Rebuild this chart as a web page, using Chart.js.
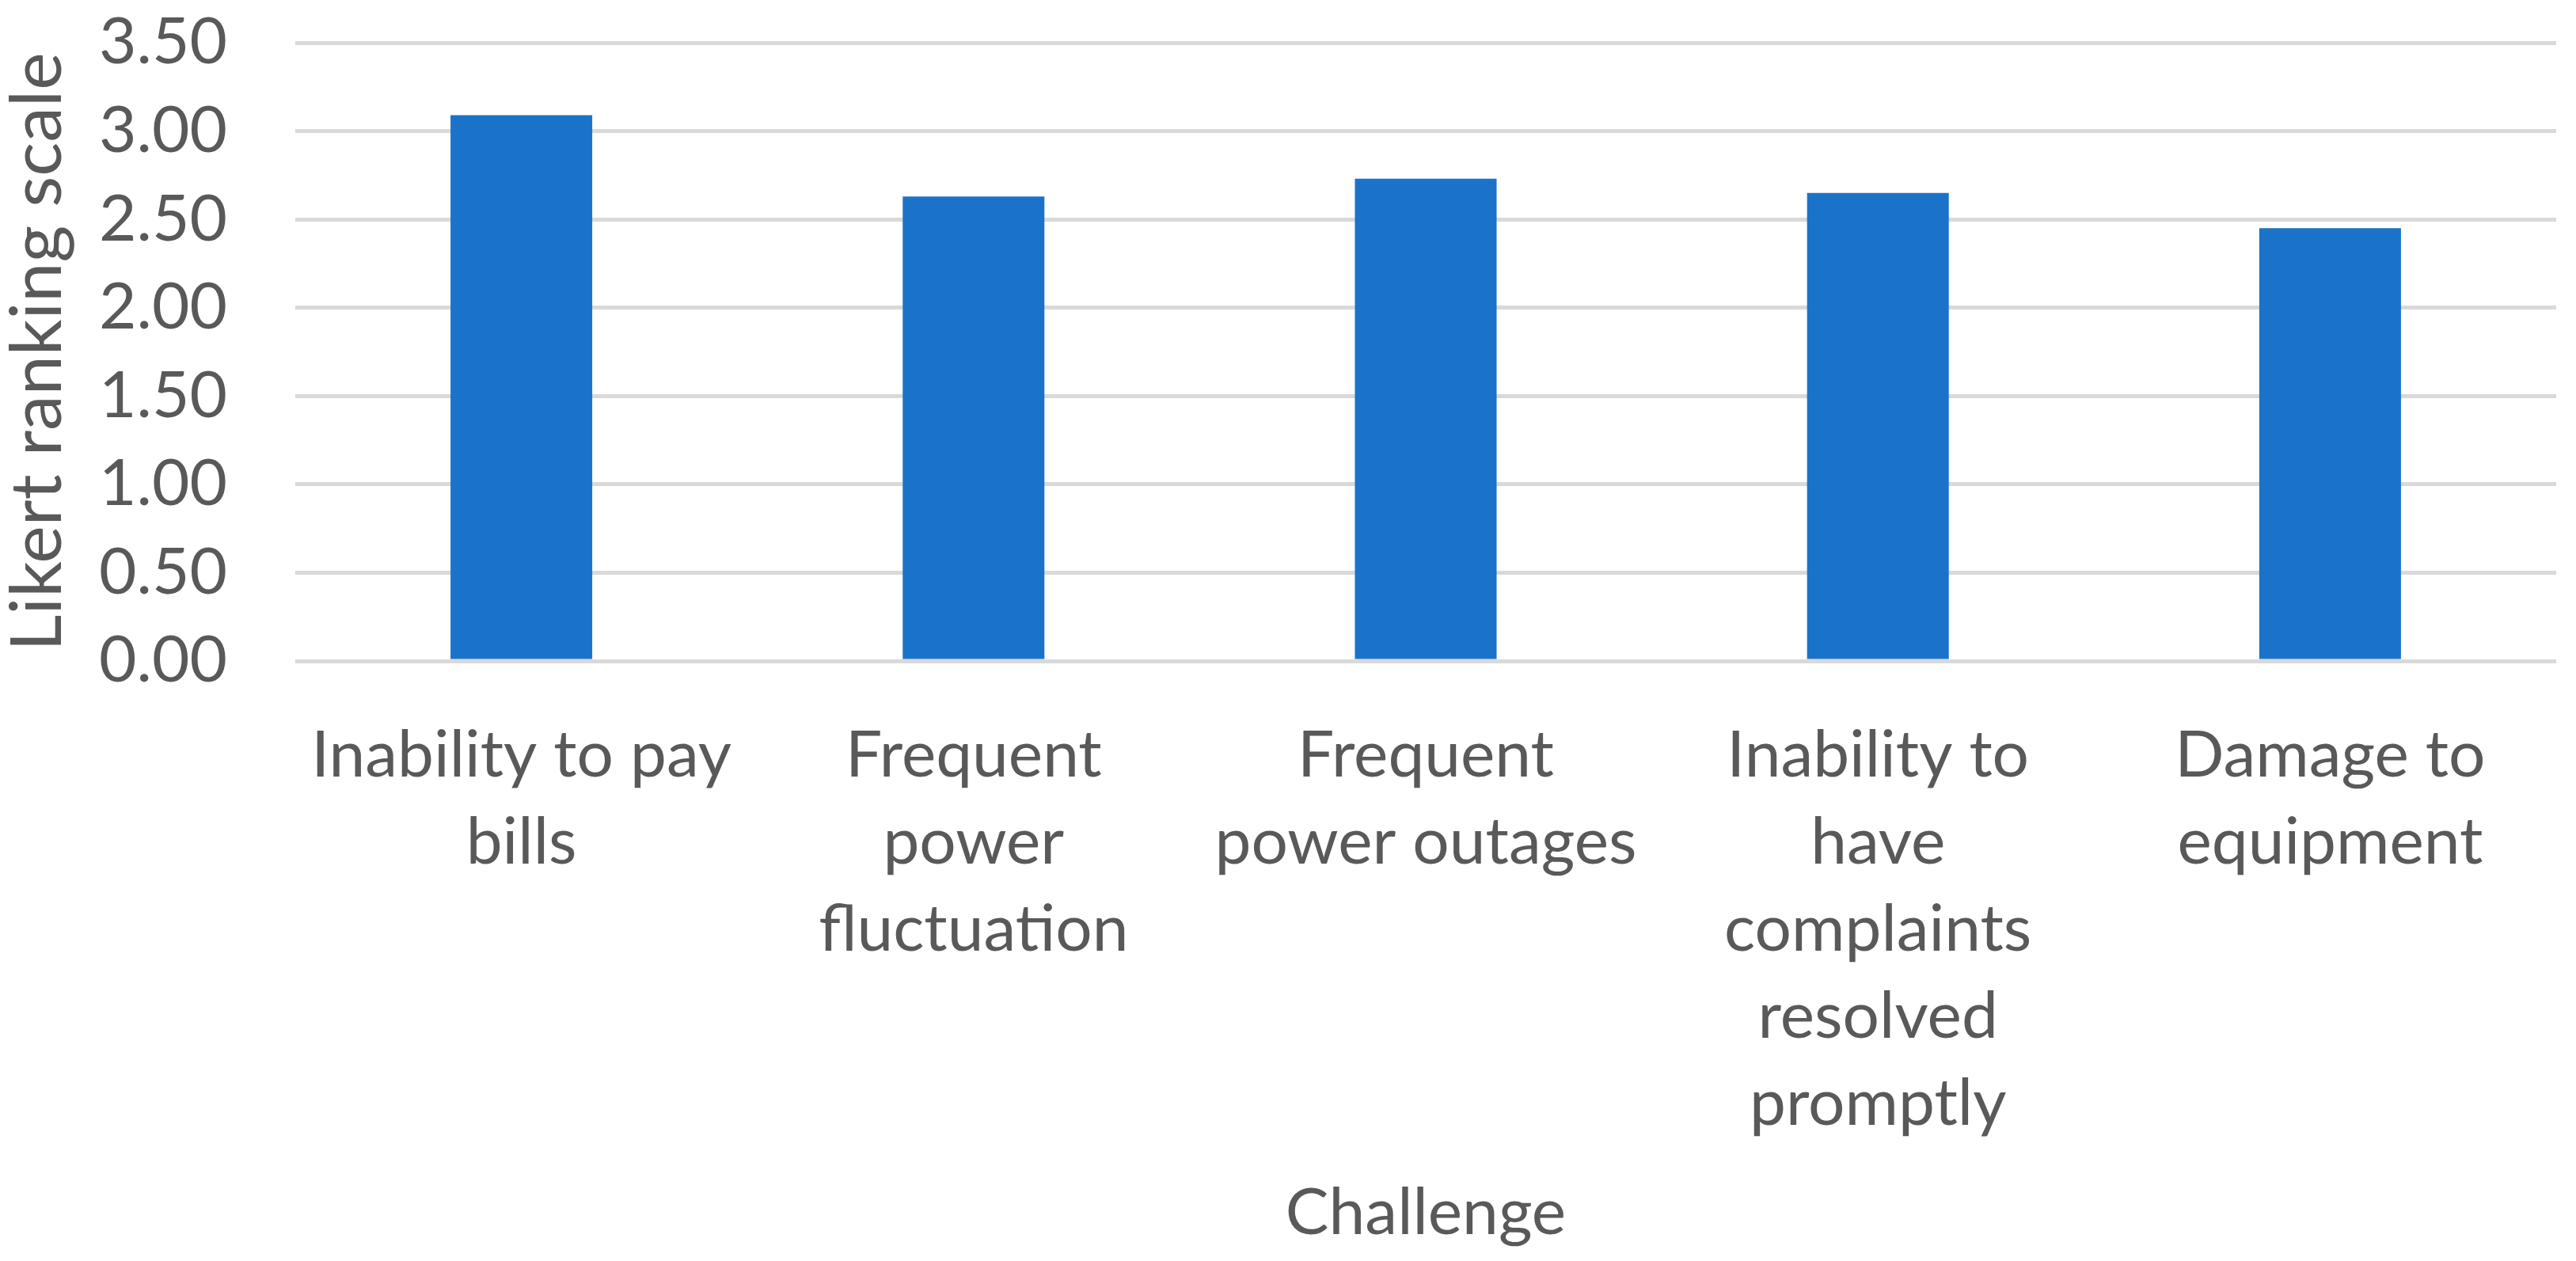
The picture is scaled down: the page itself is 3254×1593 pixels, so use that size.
<!DOCTYPE html>
<html>
<head>
<meta charset="utf-8">
<script src="https://cdn.jsdelivr.net/npm/chart.js@4.4.1/dist/chart.umd.min.js"></script>
<style>
html, body { margin: 0; padding: 0; background: #ffffff; }
#wrap { width: 3254px; height: 1593px; }
</style>
</head>
<body>
<div id="wrap"><canvas id="c" width="3254" height="1593"></canvas></div>
<script>
const categories = [
  ['Inability to pay', 'bills'],
  ['Frequent', 'power', 'fluctuation'],
  ['Frequent', 'power outages'],
  ['Inability to', 'have', 'complaints', 'resolved', 'promptly'],
  ['Damage to', 'equipment']
];
const likertValues = [3.09, 2.63, 2.73, 2.65, 2.45];
const yTickValues = [0, 0.5, 1, 1.5, 2, 2.5, 3, 3.5];
const xAxisTitle = 'Challenge';
const yAxisTitle = 'Likert ranking scale';

const FONT = 'Lato';
const TEXT = '#595959';
const GRID = '#D9D9D9';

new Chart(document.getElementById('c'), {
  type: 'bar',
  data: {
    labels: categories,
    datasets: [{
      data: likertValues,
      backgroundColor: '#1A73C9',
      borderWidth: 0,
      barPercentage: 0.3134,
      categoryPercentage: 1.0
    }]
  },
  options: {
    responsive: false,
    animation: false,
    devicePixelRatio: 1,
    layout: { padding: { top: 54, right: 25, bottom: 0, left: 0 } },
    plugins: { legend: { display: false }, tooltip: { enabled: false } },
    scales: {
      x: {
        grid: { display: false, drawTicks: false },
        border: { display: false },
        ticks: {
          color: TEXT,
          padding: 65,
          maxRotation: 0,
          autoSkip: false,
          font: { family: FONT, size: 82, lineHeight: 1.341 }
        },
        title: {
          display: true,
          text: xAxisTitle,
          color: TEXT,
          font: { family: FONT, size: 82, lineHeight: 1.0 },
          padding: { top: 0, bottom: 19 }
        },
        afterFit: (s) => { s.height = 758; s.paddingLeft = 0; s.paddingRight = 0; }
      },
      y: {
        min: 0,
        max: 3.5,
        afterBuildTicks: (s) => { s.ticks = yTickValues.map(v => ({ value: v })); },
        grid: { color: GRID, lineWidth: 5, drawTicks: false },
        border: { display: false },
        ticks: {
          color: TEXT,
          padding: 86,
          font: { family: FONT, size: 82, lineHeight: 1.2 },
          callback: (v) => Number(v).toFixed(2)
        },
        title: {
          display: true,
          text: yAxisTitle,
          color: TEXT,
          font: { family: FONT, size: 90, lineHeight: 1.0 },
          padding: { top: 3, bottom: 0 }
        },
        afterFit: (s) => { s.width = 373; s.paddingTop = 0; s.paddingBottom = 0; }
      }
    }
  }
});
</script>
</body>
</html>
